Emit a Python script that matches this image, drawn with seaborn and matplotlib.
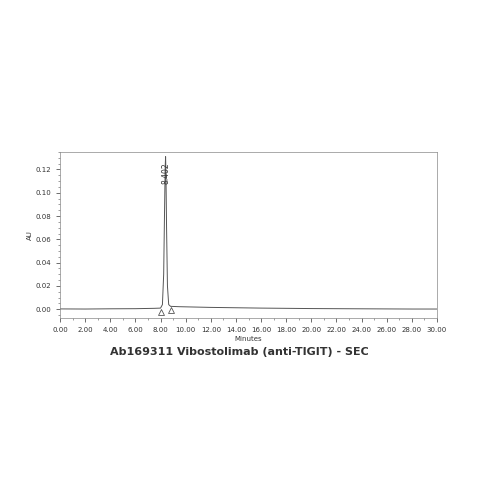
import matplotlib
matplotlib.use("Agg")
import matplotlib.pyplot as plt
import seaborn as sns
import pandas as pd
from matplotlib.ticker import MultipleLocator

time_min = [0.0, 2.0, 4.0, 6.0, 7.5, 8.0, 8.15, 8.25, 8.32, 8.37, 8.402, 8.43, 8.48, 8.55, 8.65, 8.8, 9.5, 12.0, 16.0, 20.0, 24.0, 28.0, 30.0]
absorbance = [0.0003, 0.0002, 0.0004, 0.0005, 0.0008, 0.0010, 0.004, 0.03, 0.085, 0.122, 0.131, 0.118, 0.07, 0.02, 0.004, 0.0025, 0.0022, 0.0016, 0.0010, 0.0006, 0.0004, 0.0002, 0.0002]
peak_rt = 8.402
marker_t = [8.05, 8.82]
marker_y = [-0.0025, -0.0005]

sns.set_style("white")
fig = plt.figure(figsize=(4.79, 4.79), dpi=100)
ax = fig.add_axes([60/479, 161/479, 377/479, 166/479])
df = pd.DataFrame({"t": time_min, "au": absorbance})
sns.lineplot(data=df, x="t", y="au", ax=ax, color="#555555", linewidth=0.7)
ax.scatter(marker_t, marker_y, marker="^", facecolors="white", edgecolors="#555555", s=18, linewidths=0.6, zorder=3)
ax.text(peak_rt, 0.117, "8.402", rotation=90, ha="center", va="center", fontsize=5.5, color="#333333")
ax.set_xlim(0, 30)
ax.set_ylim(-0.0075, 0.135)
ax.xaxis.set_major_locator(MultipleLocator(2))
ax.xaxis.set_minor_locator(MultipleLocator(1))
ax.yaxis.set_major_locator(MultipleLocator(0.02))
ax.yaxis.set_minor_locator(MultipleLocator(0.005))
ax.xaxis.set_major_formatter(plt.FuncFormatter(lambda v, p: f"{v:.2f}"))
ax.yaxis.set_major_formatter(plt.FuncFormatter(lambda v, p: f"{v:.2f}"))
ax.tick_params(axis="both", which="major", labelsize=5, length=3, width=0.5, colors="#333333", direction="out", bottom=True, left=True)
ax.tick_params(axis="both", which="minor", length=1.5, width=0.4, colors="#555555", direction="out", bottom=True, left=True)
for s in ax.spines.values():
    s.set_linewidth(0.5)
    s.set_color("#888888")
ax.set_xlabel("Minutes", fontsize=5, color="#333333", labelpad=2)
ax.set_ylabel("AU", fontsize=5, color="#333333", labelpad=2)
fig.text(0.5, 1 - 352/479, "Ab169311 Vibostolimab (anti-TIGIT) - SEC", ha="center", va="center", fontsize=8, fontweight="bold", color="#333333")
fig.savefig("out.png", dpi=100)
